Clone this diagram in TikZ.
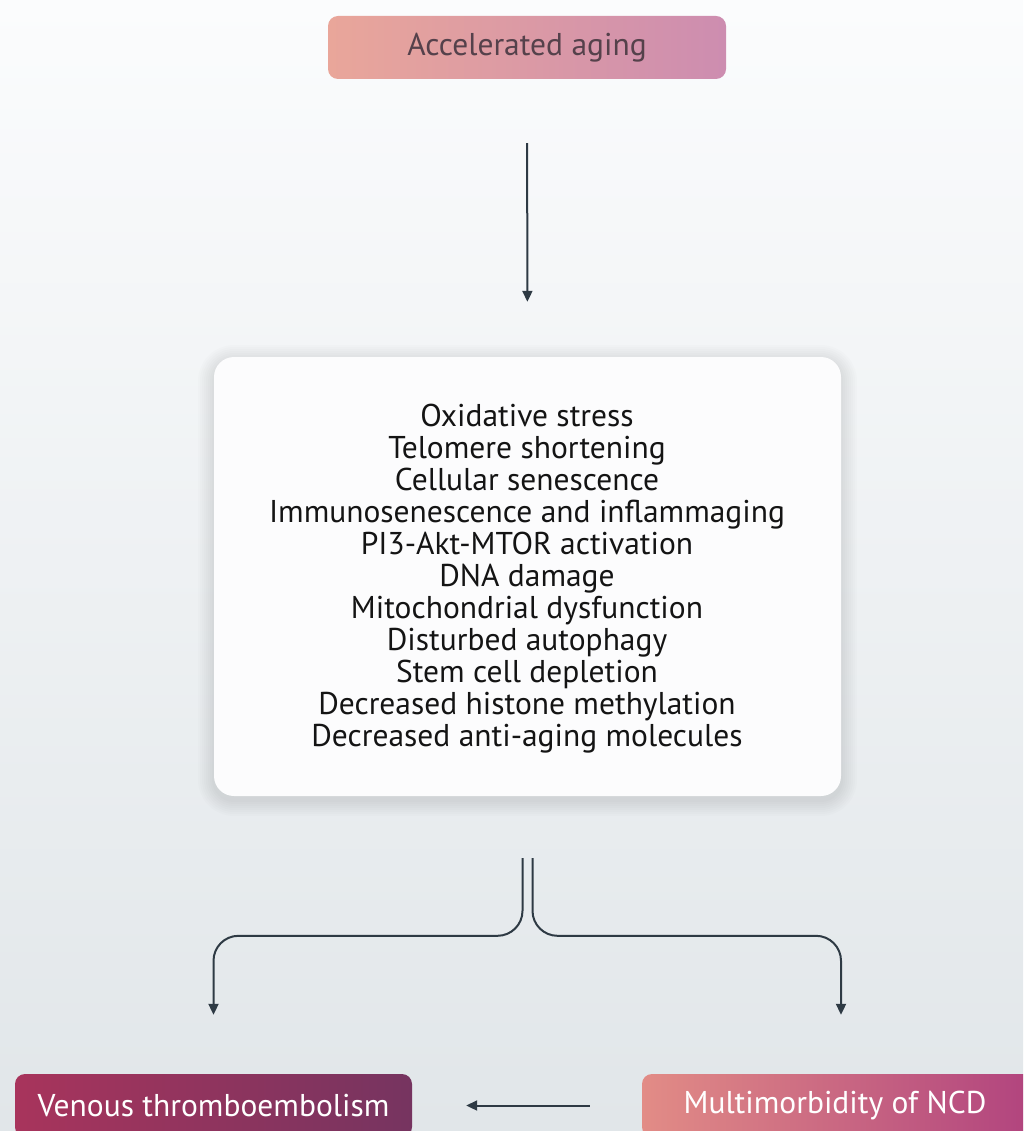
\documentclass[tikz,border=0pt]{standalone}
\usepackage{fontspec}
\setmainfont{PT Sans}
\usetikzlibrary{arrows.meta}
\definecolor{bgtop}{RGB}{251,252,253}
\definecolor{bgbot}{RGB}{225,230,233}
\definecolor{arrowc}{RGB}{46,58,68}
\definecolor{topL}{RGB}{233,166,154}
\definecolor{topR}{RGB}{205,141,176}
\definecolor{toptext}{RGB}{85,65,75}
\definecolor{vteL}{RGB}{168,52,92}
\definecolor{vteR}{RGB}{118,52,96}
\definecolor{mmL}{RGB}{226,140,134}
\definecolor{mmR}{RGB}{176,66,126}
\definecolor{midfill}{RGB}{252,252,253}
\tikzset{
  arr/.style={draw=arrowc, line width=2pt, -{Triangle[length=11pt,width=10pt]}},
  gradbox/.style={rounded corners=10pt, minimum width=398pt, minimum height=63pt, inner sep=0pt},
  bigtext/.style={font=\fontsize{31.5}{32}\selectfont}
}
\begin{document}
\begin{tikzpicture}[x=1pt,y=-1pt]
\useasboundingbox (0,0) rectangle (1023,1131);
\clip (0,0) rectangle (1023,1131);
\shade[top color=bgtop, bottom color=bgbot] (0,0) rectangle (1023,1131);

\node[gradbox, left color=topL, right color=topR, text=toptext, bigtext] (top) at (527,47.5) {Accelerated aging};

% soft shadow of middle box
\foreach \s in {2,4,...,16}{
  \fill[black, opacity=0.012, rounded corners=20pt+\s] (214-\s,357-\s+4) rectangle (841+\s,796+\s+4);
}
\node[fill=midfill, rounded corners=20pt, minimum width=627pt, minimum height=439pt, inner sep=0pt] (mid) at (527.5,576.5) {};
\node[bigtext, align=center, text=black!92, anchor=center] (list) at (527,579) {Oxidative stress\\
Telomere shortening\\
Cellular senescence\\
Immunosenescence and inflammaging\\
PI3-Akt-MTOR activation\\
DNA damage\\
Mitochondrial dysfunction\\
Disturbed autophagy\\
Stem cell depletion\\
Decreased histone methylation\\
Decreased anti-aging molecules};

\node[gradbox, left color=vteL, right color=vteR, text=white, bigtext, minimum width=397pt] (vte) at (213.5,1105.5) {Venous thromboembolism};
\node[gradbox, left color=mmL, right color=mmR, text=white, bigtext] (mm) at (841,1105.5) {\hspace*{-12pt}Multimorbidity of NCD};

\draw[arr, shorten <=64pt, shorten >=55pt] (top.south) -- (mid.north);

\draw[arr, rounded corners=25pt] ([xshift=-5pt,yshift=-62pt]mid.south) |- ([yshift=138pt]vte.north) -- ([yshift=59pt]vte.north);
\draw[arr, rounded corners=25pt] ([xshift=5pt,yshift=-62pt]mid.south) |- ([yshift=138pt]mm.north) -- ([yshift=59pt]mm.north);

\draw[arr, shorten <=52pt, shorten >=54pt] (mm.west) -- (vte.east);
\end{tikzpicture}
\end{document}
